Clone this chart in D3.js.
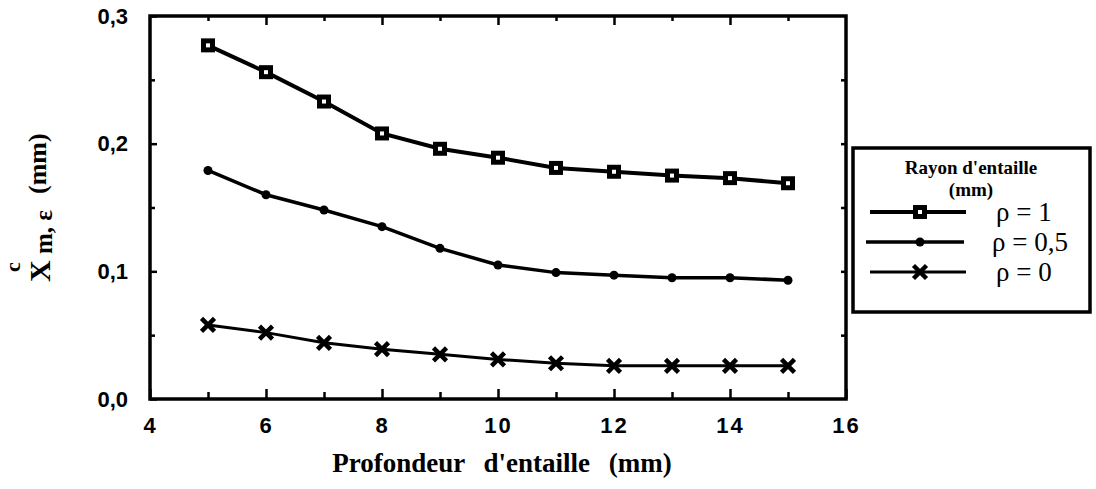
<!DOCTYPE html>
<html>
<head>
<meta charset="utf-8">
<script src="https://cdn.jsdelivr.net/npm/d3@7"></script>
<style>
  html, body { margin: 0; padding: 0; background: #fff; }
  svg { display: block; }
</style>
</head>
<body>
<svg id="chart" width="1096" height="489"></svg>
<script>
// ---- data ----
const depth = [5, 6, 7, 8, 9, 10, 11, 12, 13, 14, 15];
const rho1  = [0.277, 0.256, 0.233, 0.208, 0.196, 0.189, 0.181, 0.178, 0.175, 0.173, 0.169];
const rho05 = [0.179, 0.160, 0.148, 0.135, 0.118, 0.105, 0.099, 0.097, 0.095, 0.095, 0.093];
const rho0  = [0.058, 0.052, 0.044, 0.039, 0.035, 0.031, 0.028, 0.026, 0.026, 0.026, 0.026];
const xTickLabels = [4, 6, 8, 10, 12, 14, 16];
const yTickLabels = [0, 0.1, 0.2, 0.3];
const seriesNames = ["ρ = 1", "ρ = 0,5", "ρ = 0"];
const legendTitle = ["Rayon d'entaille", "(mm)"];
const xTitle = "Profondeur d'entaille (mm)";

const svg = d3.select("#chart");
const L = 150, R = 846, T = 16, B = 399;
const x = d3.scaleLinear().domain([4, 16]).range([L, R]);
const y = d3.scaleLinear().domain([0, 0.3]).range([B, T]);

const sans = "'Liberation Sans', Arial, sans-serif";
const serif = "'Liberation Serif', 'Times New Roman', serif";
const fmt = d => d3.format(".1f")(d).replace(".", ",");

// ---- axes (inward ticks) ----
const minorX = d3.range(4, 17, 1).filter(v => v % 2 === 1);
const yMinor = [0.05, 0.15, 0.25];

function clean(g) { g.select(".domain").remove(); g.selectAll("line").attr("stroke", "#000").attr("stroke-width", 2.5); }

// bottom
svg.append("g").attr("transform", `translate(0,${B})`)
  .call(d3.axisBottom(x).tickValues(xTickLabels).tickSizeInner(-10).tickSizeOuter(0).tickPadding(18).tickFormat(d3.format("d")))
  .call(clean)
  .call(g => g.selectAll("text").attr("font-family", sans).attr("font-weight", "bold").attr("font-size", 22)
    .attr("letter-spacing", 2).attr("fill", "#000"));
svg.append("g").attr("transform", `translate(0,${B})`)
  .call(d3.axisBottom(x).tickValues(minorX).tickSizeInner(-7).tickSizeOuter(0).tickFormat(""))
  .call(clean);
// top
svg.append("g").attr("transform", `translate(0,${T})`)
  .call(d3.axisTop(x).tickValues(xTickLabels.slice(1, -1)).tickSizeInner(-9).tickSizeOuter(0).tickFormat(""))
  .call(clean);
svg.append("g").attr("transform", `translate(0,${T})`)
  .call(d3.axisTop(x).tickValues(minorX).tickSizeInner(-5).tickSizeOuter(0).tickFormat(""))
  .call(clean);
// left
svg.append("g").attr("transform", `translate(${L},0)`)
  .call(d3.axisLeft(y).tickValues(yTickLabels).tickSizeInner(-7).tickSizeOuter(0).tickPadding(22).tickFormat(fmt))
  .call(clean)
  .call(g => g.selectAll("text").attr("font-family", sans).attr("font-weight", "bold").attr("font-size", 22).attr("fill", "#000"));
svg.append("g").attr("transform", `translate(${L},0)`)
  .call(d3.axisLeft(y).tickValues(yMinor).tickSizeInner(-5).tickSizeOuter(0).tickFormat(""))
  .call(clean);
// right
svg.append("g").attr("transform", `translate(${R},0)`)
  .call(d3.axisRight(y).tickValues([0.05, 0.1, 0.15, 0.2, 0.25]).tickSizeInner(-5).tickSizeOuter(0).tickFormat(""))
  .call(clean);

// frame
svg.append("rect").attr("x", L).attr("y", T).attr("width", R - L).attr("height", B - T)
  .attr("fill", "none").attr("stroke", "#000").attr("stroke-width", 3.5);

// ---- series ----
const line = d3.line().x(d => x(d[0])).y(d => y(d[1]));
const s1 = depth.map((d, i) => [d, rho1[i]]);
const s05 = depth.map((d, i) => [d, rho05[i]]);
const s0 = depth.map((d, i) => [d, rho0[i]]);

svg.append("path").datum(s1).attr("d", line).attr("fill", "none").attr("stroke", "#000").attr("stroke-width", 4);
svg.append("path").datum(s05).attr("d", line).attr("fill", "none").attr("stroke", "#000").attr("stroke-width", 3.5);
svg.append("path").datum(s0).attr("d", line).attr("fill", "none").attr("stroke", "#000").attr("stroke-width", 3);

function square(g, cx, cy) {
  g.append("rect").attr("x", cx - 7).attr("y", cy - 7).attr("width", 14).attr("height", 14).attr("fill", "#000");
  g.append("rect").attr("x", cx - 2).attr("y", cy - 2).attr("width", 4).attr("height", 4).attr("fill", "#fff");
}
function dot(g, cx, cy) {
  g.append("circle").attr("cx", cx).attr("cy", cy).attr("r", 4.5).attr("fill", "#000");
}
function cross(g, cx, cy) {
  const s = 6.5;
  g.append("path").attr("d", `M${cx - s},${cy - s}L${cx + s},${cy + s}M${cx - s},${cy + s}L${cx + s},${cy - s}`)
    .attr("stroke", "#000").attr("stroke-width", 4.5).attr("stroke-linecap", "butt");
}
const mg = svg.append("g");
s1.forEach(d => square(mg, x(d[0]), y(d[1])));
s05.forEach(d => dot(mg, x(d[0]), y(d[1])));
s0.forEach(d => cross(mg, x(d[0]), y(d[1])));

// ---- axis titles ----
svg.append("text").attr("x", 502).attr("y", 472).attr("text-anchor", "middle")
  .attr("font-family", serif).attr("font-weight", "bold").attr("font-size", 27)
  .attr("word-spacing", 12).text(xTitle);

const yt = svg.append("g").attr("transform", "translate(50,0) rotate(-90)")
  .attr("font-family", serif).attr("font-weight", "bold").attr("fill", "#000");
yt.append("text").attr("x", -282).attr("y", 0).attr("font-size", 30).text("X");
yt.append("text").attr("x", -267).attr("y", -30).attr("text-anchor", "middle").attr("font-size", 22).text("c");
yt.append("text").attr("x", -254).attr("y", 2).attr("font-size", 25).text("m, ε");
yt.append("text").attr("x", -194).attr("y", -4).attr("font-size", 26).text("(mm)");

// ---- legend ----
const lg = svg.append("g");
lg.append("rect").attr("x", 853).attr("y", 148).attr("width", 237).attr("height", 164)
  .attr("fill", "#fff").attr("stroke", "#000").attr("stroke-width", 3.5);
lg.append("text").attr("x", 971).attr("y", 174).attr("text-anchor", "middle")
  .attr("font-family", serif).attr("font-weight", "bold").attr("font-size", 19).text(legendTitle[0]);
lg.append("text").attr("x", 971).attr("y", 196).attr("text-anchor", "middle")
  .attr("font-family", serif).attr("font-weight", "bold").attr("font-size", 19).text(legendTitle[1]);
const rows = [212, 242, 272];
const widths = [4, 3.5, 3];
const markers = [square, dot, cross];
rows.forEach((ry, i) => {
  lg.append("line").attr("x1", 870 - (i === 1 ? 4 : 0)).attr("x2", 968 - (i === 1 ? 4 : 2)).attr("y1", ry).attr("y2", ry)
    .attr("stroke", "#000").attr("stroke-width", widths[i]);
  markers[i](lg, 920, ry);
  lg.append("text").attr("x", 996 - (i === 1 ? 4 : 0)).attr("y", ry + 9)
    .attr("font-family", serif).attr("font-size", 27).text(seriesNames[i]);
});
</script>
</body>
</html>
